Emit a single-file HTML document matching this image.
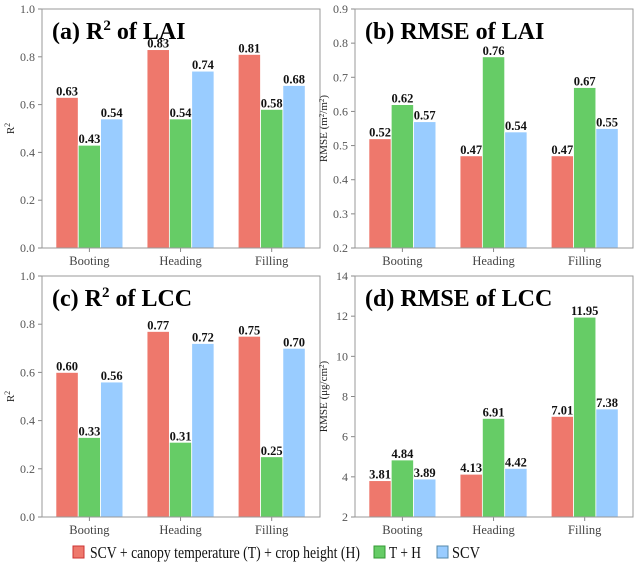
<!DOCTYPE html>
<html><head><meta charset="utf-8"><style>
body{margin:0;background:#fff;width:640px;height:571px;overflow:hidden}
svg{font-family:"Liberation Serif",serif}
</style></head><body>
<svg id="c" width="640" height="571"></svg>
<script>
const categories=["Booting","Heading","Filling"];
const seriesNames=["SCV + canopy temperature (T) + crop height (H)","T + H","SCV"];
const colors=["#ee786c","#66cc66","#99ccff"];
const r2Lai=[[0.63,0.83,0.81],[0.43,0.54,0.58],[0.54,0.74,0.68]];
const rmseLai=[[0.52,0.47,0.47],[0.62,0.76,0.67],[0.57,0.54,0.55]];
const r2Lcc=[[0.60,0.77,0.75],[0.33,0.31,0.25],[0.56,0.72,0.70]];
const rmseLcc=[[3.81,4.13,7.01],[4.84,6.91,11.95],[3.89,4.42,7.38]];
const ticksR2=[0,0.2,0.4,0.6,0.8,1.0];
const ticksRmseLai=[0.2,0.3,0.4,0.5,0.6,0.7,0.8,0.9];
const ticksRmseLcc=[2,4,6,8,10,12,14];
const svg=document.getElementById('c');
const NS="http://www.w3.org/2000/svg";
function mk(tag,attrs,parent){const e=document.createElementNS(NS,tag);for(const k in attrs)e.setAttribute(k,attrs[k]);(parent||svg).appendChild(e);return e;}
function panel(id,x0,x1,y0,y1,ymin,ymax,ticks,dec,data,title,sup,titleRest,ylabel,tdec){
  const g=mk('g',{});
  
  
  const ys=v=>y1-(v-ymin)/(ymax-ymin)*(y1-y0);
  const unit=(x1-x0)/3.05;
  const xs=i=>x0+unit*(i+0.52);
  const bw=unit*0.245;
  ticks.forEach(t=>{
    mk('line',{x1:x0-4,x2:x0,y1:ys(t),y2:ys(t),stroke:'#888'},g);
    const tl=mk('text',{x:x0-7,y:ys(t)+4,'text-anchor':'end','font-size':12,fill:'#555'},g);
    tl.textContent=t.toFixed(tdec);
    
    
  });
  categories.forEach((c,i)=>{
    const t=mk('text',{x:xs(i),y:y1+17,'text-anchor':'middle','font-size':12.5,fill:'#444'},g);
    t.textContent=c;
    
    
    mk('line',{x1:xs(i),x2:xs(i),y1:y1,y2:y1+4,stroke:'#888'},g);
  });
  data.forEach((s,si)=>s.forEach((v,i)=>{
    const bx=xs(i)+(si-1.5)*bw;
    const r=mk('rect',{x:bx,y:ys(v),width:bw,height:y1-ys(v),fill:colors[si],stroke:'#fff','stroke-width':0.8},g);
    
    
    const t=mk('text',{x:bx+bw/2,y:ys(v)-2,'text-anchor':'middle','font-size':12.5,'font-weight':'bold',fill:'#111'},g);
    t.textContent=v.toFixed(dec);
    
    
  }));
  mk('rect',{x:x0,y:y0,width:x1-x0,height:y1-y0,fill:'none',stroke:'#999','stroke-width':1},g);
  const tt=mk('text',{x:x0+10,y:y0+30,'font-size':24,'font-weight':'bold',fill:'#000'},g);
  
  
  tt.innerHTML=title+(sup?'<tspan dy="-9" font-size="15">'+sup+'</tspan><tspan dy="9">'+titleRest+'</tspan>':titleRest);
  const yl=mk('text',{transform:`translate(${x0-28},${(y0+y1)/2}) rotate(-90)`,'text-anchor':'middle','font-size':11,fill:'#222'},g);
  
  
  yl.innerHTML=ylabel;
}
panel('panel-a',42,320,9,248,0,1,ticksR2,2,r2Lai,'(a) R','2',' of LAI','R<tspan dy="-4" font-size="8">2</tspan>',1);
panel('panel-b',355,633,9,248,0.2,0.9,ticksRmseLai,2,rmseLai,'(b) RMSE of LAI','','','RMSE (m<tspan dy="-3" font-size="7">2</tspan><tspan dy="3">/m</tspan><tspan dy="-3" font-size="7">2</tspan><tspan dy="3">)</tspan>',1);
panel('panel-c',42,320,276,517,0,1,ticksR2,2,r2Lcc,'(c) R','2',' of LCC','R<tspan dy="-4" font-size="8">2</tspan>',1);
panel('panel-d',355,633,276,517,2,14,ticksRmseLcc,2,rmseLcc,'(d) RMSE of LCC','','','RMSE (μg/cm<tspan dy="-3" font-size="7">2</tspan><tspan dy="3">)</tspan>',0);
const lx=[73,374,437],tx=[90,389,452],tw=[270,32,28];
seriesNames.forEach((n,i)=>{
  const r=mk('rect',{x:lx[i],y:546,width:11,height:12,fill:colors[i],stroke:['#c33','#393','#58a'][i]});
  
  
  const t=mk('text',{x:tx[i],y:558,'font-size':17,fill:'#111',textLength:tw[i],lengthAdjust:'spacingAndGlyphs'});
  t.textContent=n;
  
  
});
</script>
</body></html>
